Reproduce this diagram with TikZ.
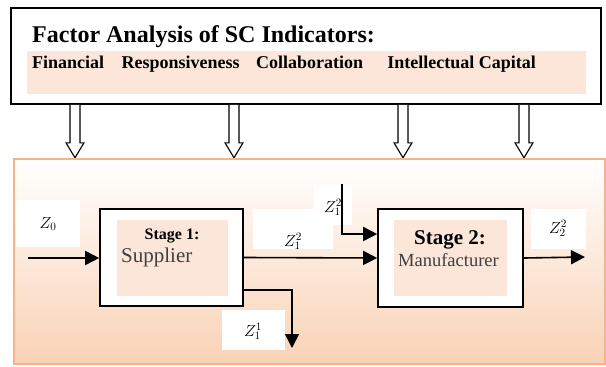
\RequirePackage{fix-cm}
\documentclass[tikz,border=0pt]{standalone}
\usepackage{fontspec}
\setmainfont{Liberation Serif}
\usetikzlibrary{positioning,arrows.meta}

\definecolor{peach}{HTML}{FBE6D9}
\definecolor{peachdeep}{HTML}{F9D2B5}
\definecolor{apricot}{HTML}{F5B58A}
\definecolor{inkgray}{HTML}{3F3F3F}

\tikzset{
  flow/.style={line width=1.6pt, -{Triangle[length=14pt,width=14pt]}},
  hollow/.style={draw=black, fill=white, line width=1.1pt},
  stagebox/.style={draw, line width=1.6pt, fill=white, minimum width=143pt, minimum height=97pt},
  stagefill/.style={fill=peach, minimum width=111pt, minimum height=76pt},
  factor/.style={inner sep=0pt, font=\fontsize{18}{20}\selectfont\bfseries},
  tag/.style={fill=white, inner sep=0pt, align=center, anchor=base, font=\fontsize{16}{18}\selectfont},
}

\begin{document}
\begin{tikzpicture}[x=1pt,y=-1pt]
    \useasboundingbox (0,0) rectangle (606,367);

    % indicator panel
    \node [draw, line width=1.6pt, minimum width=590pt, minimum height=96pt] (panel) at (306,56) {};
    \node [fill=peach, minimum width=559pt, minimum height=43pt] (band) at (306.5,72.5) {};
    \node [anchor=base west, inner sep=0pt, font=\fontsize{24}{28}\selectfont\bfseries] (title) at (32,42) {Factor Analysis of SC Indicators:};
    \node [factor, anchor=base west] (fin) at (32,68) {Financial};
    \node [factor, base right=17pt of fin] (resp) {Responsiveness};
    \node [factor, base right=16pt of resp] (coll) {Collaboration};
    \node [factor, base right=24pt of coll] (intel) {Intellectual Capital};

    \foreach \x in {75,234,403,524}
      \draw[hollow] (panel.south -| \x,0) ++(-5,0) -- ++(0,38) -- ++(-4,0) -- ++(9,15) -- ++(9,-15) -- ++(-4,0) -- ++(0,-38);

    % supply chain
    \node [draw=apricot, line width=1.6pt, top color=white, bottom color=peachdeep, minimum width=591pt, minimum height=205pt] (process) at (309.5,261.5) {};

    \node [stagebox] (stage1) at (171.5,257.5) {};
    \node [stagefill] (fill1) at (172.5,258) {};
    \node [anchor=base, font=\fontsize{16}{18}\selectfont\bfseries] (s1title) at (172,239) {Stage 1:};
    \node [anchor=base west, inner sep=0pt, text=inkgray, font=\fontsize{21}{24}\selectfont] (s1name) at (121,262) {Supplier};

    \node [stagebox, minimum width=145pt, minimum height=98pt] (stage2) at (450.5,258) {};
    \node [stagefill, minimum width=113pt] (fill2) at (450.5,258) {};
    \node [anchor=base, font=\fontsize{21}{24}\selectfont\bfseries] (s2title) at (450,244) {Stage 2:};
    \node [anchor=base, inner sep=0pt, text=inkgray, font=\fontsize{18.5}{22}\selectfont] (s2name) at (448.5,266) {Manufacturer};

    \node [tag, text width=64pt, text height=28pt, text depth=19pt] (z0) at (48,228) {$Z_0$};
    \node [tag, text width=80pt, text height=37pt, text depth=3pt] (z12) at (293,246) {$Z_1^2$};
    \node [tag, text width=38pt, text height=27pt, text depth=13pt] (z12in) at (333,212) {$Z_1^2$};
    \node [tag, text width=63pt, text height=26pt, text depth=14pt] (z11) at (253,336) {$Z_1^1$};
    \node [tag, text width=55pt, text height=24pt, text depth=16pt] (z22) at (558,233) {$Z_2^2$};

    \coordinate (src) at (28,258);
    \coordinate (drop) at (292,348);
    \coordinate (feed) at (342,184);
    \coordinate (sink) at (585,257);

    \draw[flow] (src) -- (src -| stage1.west);
    \draw[flow] (stage1.east) -- (stage2.west);
    \draw[flow] ([yshift=17pt]stage1.south east) -| (drop);
    \draw[flow] (feed) |- ([yshift=24pt]stage2.west);
    \draw[flow] (stage2.east) -- (sink);
\end{tikzpicture}
\end{document}
